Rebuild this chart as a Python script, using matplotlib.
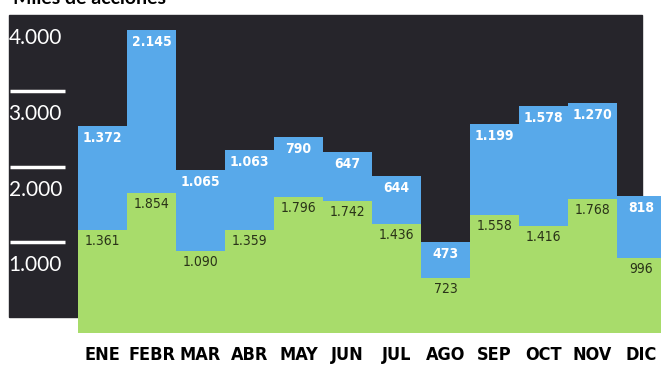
import matplotlib.pyplot as plt
from matplotlib.patches import Rectangle
from matplotlib.transforms import ScaledTranslation

# datos: miles de acciones por mes
meses = ["ENE", "FEBR", "MAR", "ABR", "MAY", "JUN", "JUL", "AGO", "SEP", "OCT", "NOV", "DIC"]
verde = [1361, 1854, 1090, 1359, 1796, 1742, 1436, 723, 1558, 1416, 1768, 996]
azul = [1372, 2145, 1065, 1063, 790, 647, 644, 473, 1199, 1578, 1270, 818]
marcas = [1000, 2000, 3000, 4000]

c_verde = "#a8dc6b"
c_azul = "#58a9ea"
c_fondo = "#26252b"


def miles(v):
    return f"{v:,}".replace(",", ".")


W, H = 661, 365
fig = plt.figure(figsize=(W / 100, H / 100), dpi=100)

# panel oscuro de fondo
fig.add_artist(Rectangle((9 / W, (H - 317) / H), 633 / W, 302 / H,
                         transform=fig.transFigure, color=c_fondo, zorder=-1))

ax = fig.add_axes([78 / W, (H - 333) / H, 588 / W, 333 / H])
ax.set_facecolor("none")
for s in ax.spines.values():
    s.set_visible(False)

x = list(range(len(meses)))
ax.bar(x, verde, width=1.0, color=c_verde, linewidth=0)
ax.bar(x, azul, width=1.0, bottom=verde, color=c_azul, linewidth=0)
ax.set_xlim(-0.5, 11.5)
ax.set_ylim(0, 4400)

# etiquetas de valores
for i in x:
    tot = verde[i] + azul[i]
    ax.annotate(miles(azul[i]), (i, tot), xytext=(0, -12), textcoords="offset pixels",
                ha="center", va="center", color="white", fontsize=10,
                fontweight="bold", fontstretch="condensed")
    ax.annotate(miles(verde[i]), (i, verde[i]), xytext=(0, -11), textcoords="offset pixels",
                ha="center", va="center", color="#2a3318", fontsize=10,
                fontstretch="condensed")

# meses
ax.set_xticks(x)
ax.set_xticklabels(meses, fontsize=13, fontweight="bold", fontstretch="condensed")
ax.tick_params(axis="x", length=0, pad=9)

# eje y: etiquetas blancas y rayas encima
ax.set_yticks(marcas)
ax.set_yticklabels([miles(v) for v in marcas], color="white", fontsize=15, family="Lato")
ax.tick_params(axis="y", length=0, pad=11.5)
off = ScaledTranslation(0, -6 / 100, fig.dpi_scale_trans)
for lab in ax.get_yticklabels():
    lab.set_transform(lab.get_transform() + off)
for v in marcas[:-1]:
    ax.plot([-0.1156, -0.022], [v + 200, v + 200], color="white", lw=2.5,
            transform=ax.get_yaxis_transform(), clip_on=False, solid_capstyle="butt")

fig.text(13 / W, 1 - 4 / H, "Miles de acciones", fontsize=14, fontweight="bold",
         family="Lato", va="baseline", ha="left")

fig.savefig("out.png", dpi=100)
